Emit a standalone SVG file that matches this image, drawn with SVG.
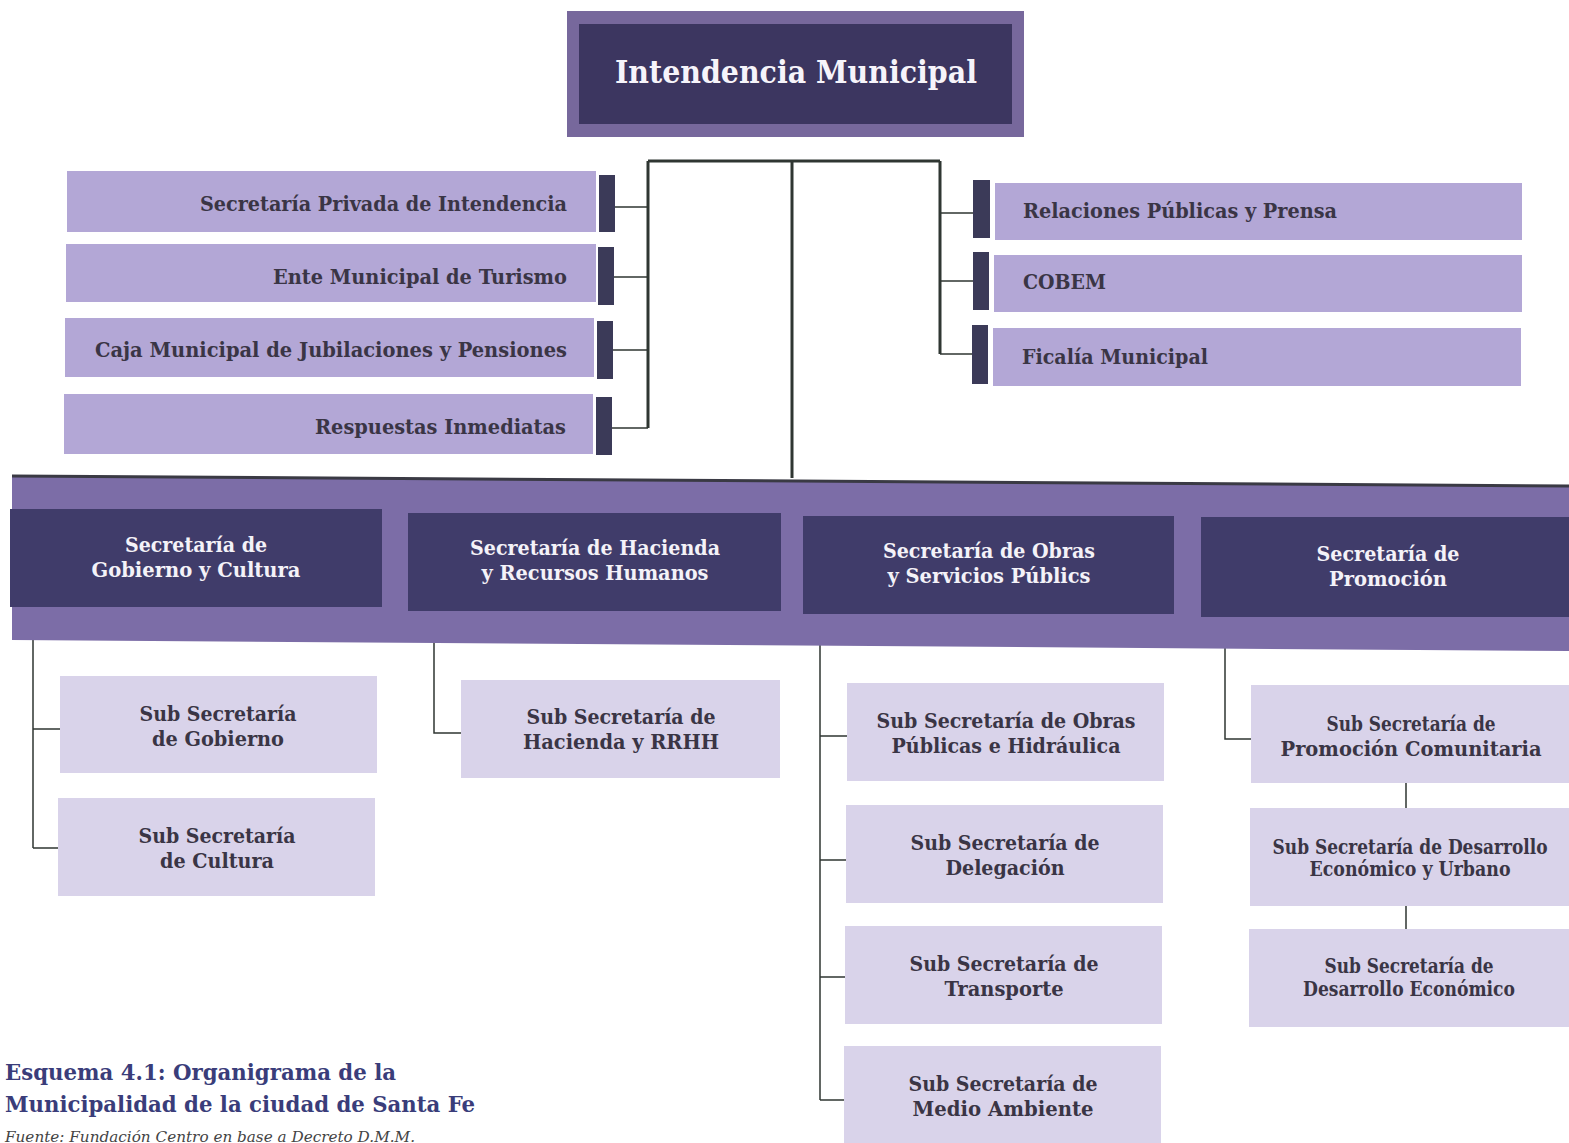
<svg xmlns="http://www.w3.org/2000/svg" width="1569" height="1143" viewBox="0 0 1569 1143">
<style>
.t{font-family:"DejaVu Serif","Liberation Serif",serif;font-stretch:condensed;font-weight:bold}
.lb{fill:#b3a7d6}
.bar{fill:#3b3a58}
.sec{fill:#403c6a}
.sub{fill:#d9d3ea}
.dk{fill:#3a3545;font-size:21px}
.wt{fill:#f4f2f8;font-size:20px}
.st{fill:#3a3545;font-size:20px}
.c{stroke:#2f3632;fill:none}
.m{stroke-width:3}
.b{stroke-width:1.5}
</style>
<rect width="1569" height="1143" fill="#ffffff"/>
<g id="connectors">
<path class="c m" d="M648 161H940M792 161V478M648 161V428M940 161V354"/>
<path class="c b" d="M614 207H648M614 277H648M613 350H648M612 428H648M940 213H974M940 281H974M940 354H973"/>
<path class="c b" d="M33 607V848M33 729H60M33 848H58M434 611V733H461M820 614V1100M820 736H847M820 860H846M820 977H845M820 1100H844M1225 617V739H1251M1406 783V808M1406 906V929"/>
</g>
<g id="intendencia">
<rect x="567" y="11" width="457" height="126" fill="#77689c"/>
<rect x="579" y="24" width="433" height="100" fill="#3c3660"/>
<text class="t" x="796" y="83" text-anchor="middle" font-size="32" fill="#f6f4fa" textLength="362" lengthAdjust="spacingAndGlyphs">Intendencia Municipal</text>
</g>
<g id="privada"><rect class="lb" x="67" y="171" width="529" height="61"/><rect class="bar" x="599" y="175" width="16" height="57"/><text class="t dk" x="567" y="211" text-anchor="end" textLength="367" lengthAdjust="spacingAndGlyphs">Secretaría Privada de Intendencia</text></g>
<g id="turismo"><rect class="lb" x="66" y="244" width="530" height="58"/><rect class="bar" x="598" y="247" width="16" height="58"/><text class="t dk" x="567" y="284" text-anchor="end" textLength="294" lengthAdjust="spacingAndGlyphs">Ente Municipal de Turismo</text></g>
<g id="caja"><rect class="lb" x="65" y="318" width="529" height="59"/><rect class="bar" x="597" y="321" width="16" height="58"/><text class="t dk" x="567" y="357" text-anchor="end" textLength="472" lengthAdjust="spacingAndGlyphs">Caja Municipal de Jubilaciones y Pensiones</text></g>
<g id="respuestas"><rect class="lb" x="64" y="394" width="529" height="60"/><rect class="bar" x="596" y="397" width="16" height="58"/><text class="t dk" x="566" y="434" text-anchor="end" textLength="251" lengthAdjust="spacingAndGlyphs">Respuestas Inmediatas</text></g>
<g id="relaciones"><rect class="bar" x="973" y="180" width="17" height="58"/><rect class="lb" x="995" y="183" width="527" height="57"/><text class="t dk" x="1023" y="218" textLength="314" lengthAdjust="spacingAndGlyphs">Relaciones Públicas y Prensa</text></g>
<g id="cobem"><rect class="bar" x="973" y="252" width="16" height="58"/><rect class="lb" x="994" y="255" width="528" height="57"/><text class="t dk" x="1023" y="289" textLength="83" lengthAdjust="spacingAndGlyphs">COBEM</text></g>
<g id="fiscalia"><rect class="bar" x="972" y="325" width="16" height="59"/><rect class="lb" x="993" y="328" width="528" height="58"/><text class="t dk" x="1022" y="364" textLength="186" lengthAdjust="spacingAndGlyphs">Ficalía Municipal</text></g>
<g id="band">
<polygon points="12,476 1569,486 1569,651 12,640" fill="#7c6da7"/>
<path d="M12 476L1569 486" stroke="#3a3a44" stroke-width="3"/>
</g>
<g id="sec-gobierno"><rect class="sec" x="10" y="509" width="372" height="98"/><text class="t wt" text-anchor="middle"><tspan x="196" y="552" textLength="142" lengthAdjust="spacingAndGlyphs">Secretaría de</tspan><tspan x="196" y="577" textLength="209" lengthAdjust="spacingAndGlyphs">Gobierno y Cultura</tspan></text></g>
<g id="sec-hacienda"><rect class="sec" x="408" y="513" width="373" height="98"/><text class="t wt" text-anchor="middle"><tspan x="595" y="555" textLength="250" lengthAdjust="spacingAndGlyphs">Secretaría de Hacienda</tspan><tspan x="595" y="580" textLength="227" lengthAdjust="spacingAndGlyphs">y Recursos Humanos</tspan></text></g>
<g id="sec-obras"><rect class="sec" x="803" y="516" width="371" height="98"/><text class="t wt" text-anchor="middle"><tspan x="989" y="558" textLength="212" lengthAdjust="spacingAndGlyphs">Secretaría de Obras</tspan><tspan x="989" y="583" textLength="203" lengthAdjust="spacingAndGlyphs">y Servicios Públics</tspan></text></g>
<g id="sec-promocion"><rect class="sec" x="1201" y="517" width="368" height="100"/><text class="t wt" text-anchor="middle"><tspan x="1388" y="561" textLength="143" lengthAdjust="spacingAndGlyphs">Secretaría de</tspan><tspan x="1388" y="586" textLength="118" lengthAdjust="spacingAndGlyphs">Promoción</tspan></text></g>
<g id="sub-gobierno"><rect class="sub" x="60" y="676" width="317" height="97"/><text class="t st" text-anchor="middle"><tspan x="218" y="721" textLength="157" lengthAdjust="spacingAndGlyphs">Sub Secretaría</tspan><tspan x="218" y="746" textLength="132" lengthAdjust="spacingAndGlyphs">de Gobierno</tspan></text></g>
<g id="sub-cultura"><rect class="sub" x="58" y="798" width="317" height="98"/><text class="t st" text-anchor="middle"><tspan x="217" y="843" textLength="157" lengthAdjust="spacingAndGlyphs">Sub Secretaría</tspan><tspan x="217" y="868" textLength="114" lengthAdjust="spacingAndGlyphs">de Cultura</tspan></text></g>
<g id="sub-hacienda"><rect class="sub" x="461" y="680" width="319" height="98"/><text class="t st" text-anchor="middle"><tspan x="621" y="724" textLength="189" lengthAdjust="spacingAndGlyphs">Sub Secretaría de</tspan><tspan x="621" y="749" textLength="196" lengthAdjust="spacingAndGlyphs">Hacienda y RRHH</tspan></text></g>
<g id="sub-obras"><rect class="sub" x="847" y="683" width="317" height="98"/><text class="t st" text-anchor="middle"><tspan x="1006" y="728" textLength="259" lengthAdjust="spacingAndGlyphs">Sub Secretaría de Obras</tspan><tspan x="1006" y="753" textLength="229" lengthAdjust="spacingAndGlyphs">Públicas e Hidráulica</tspan></text></g>
<g id="sub-delegacion"><rect class="sub" x="846" y="805" width="317" height="98"/><text class="t st" text-anchor="middle"><tspan x="1005" y="850" textLength="189" lengthAdjust="spacingAndGlyphs">Sub Secretaría de</tspan><tspan x="1005" y="875" textLength="119" lengthAdjust="spacingAndGlyphs">Delegación</tspan></text></g>
<g id="sub-transporte"><rect class="sub" x="845" y="926" width="317" height="98"/><text class="t st" text-anchor="middle"><tspan x="1004" y="971" textLength="189" lengthAdjust="spacingAndGlyphs">Sub Secretaría de</tspan><tspan x="1004" y="996" textLength="119" lengthAdjust="spacingAndGlyphs">Transporte</tspan></text></g>
<g id="sub-ambiente"><rect class="sub" x="844" y="1046" width="317" height="97"/><text class="t st" text-anchor="middle"><tspan x="1003" y="1091" textLength="189" lengthAdjust="spacingAndGlyphs">Sub Secretaría de</tspan><tspan x="1003" y="1116" textLength="181" lengthAdjust="spacingAndGlyphs">Medio Ambiente</tspan></text></g>
<g id="sub-comunitaria"><rect class="sub" x="1251" y="685" width="318" height="98"/><text class="t st" text-anchor="middle"><tspan x="1411" y="731" textLength="169" lengthAdjust="spacingAndGlyphs">Sub Secretaría de</tspan><tspan x="1411" y="756" textLength="261" lengthAdjust="spacingAndGlyphs">Promoción Comunitaria</tspan></text></g>
<g id="sub-desarrollo-urbano"><rect class="sub" x="1250" y="808" width="319" height="98"/><text class="t st" text-anchor="middle" font-size="18"><tspan x="1410" y="854" textLength="275" lengthAdjust="spacingAndGlyphs">Sub Secretaría de Desarrollo</tspan><tspan x="1410" y="876" textLength="201" lengthAdjust="spacingAndGlyphs">Económico y Urbano</tspan></text></g>
<g id="sub-desarrollo"><rect class="sub" x="1249" y="929" width="320" height="98"/><text class="t st" text-anchor="middle" font-size="18"><tspan x="1409" y="973" textLength="169" lengthAdjust="spacingAndGlyphs">Sub Secretaría de</tspan><tspan x="1409" y="996" textLength="212" lengthAdjust="spacingAndGlyphs">Desarrollo Económico</tspan></text></g>
<g id="caption">
<text class="t" fill="#3a3d7a" font-size="23"><tspan x="5" y="1080" textLength="391" lengthAdjust="spacingAndGlyphs">Esquema 4.1: Organigrama de la</tspan><tspan x="5" y="1112" textLength="470" lengthAdjust="spacingAndGlyphs">Municipalidad de la ciudad de Santa Fe</tspan></text>
<text x="5" y="1142" font-family="DejaVu Serif, serif" font-style="italic" font-size="14" fill="#444" textLength="410" lengthAdjust="spacingAndGlyphs">Fuente: Fundación Centro en base a Decreto D.M.M.</text>
</g>
</svg>
